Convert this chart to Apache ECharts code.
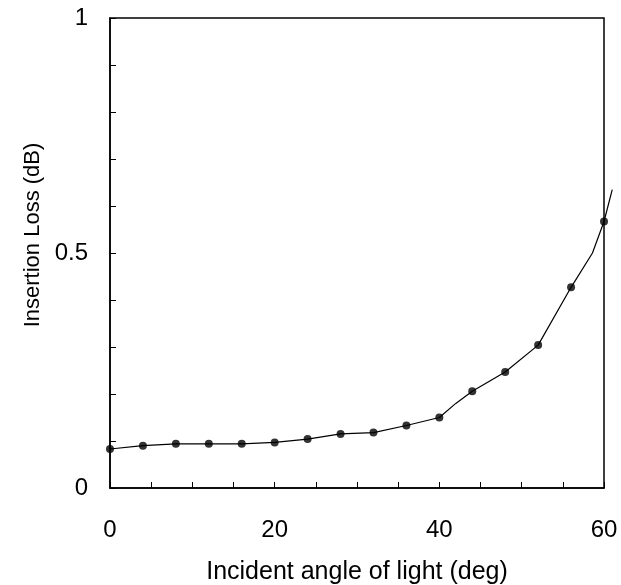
<!DOCTYPE html>
<html>
<head>
<meta charset="utf-8">
<script src="https://cdn.jsdelivr.net/npm/echarts@6/dist/echarts.min.js"></script>
<style>html,body{margin:0;padding:0;background:#fff;}#c{width:621px;height:585px;}</style>
</head>
<body>
<div id="c"></div>
<script>
const angles = [0, 4, 8, 12, 16, 20, 24, 28, 32, 36, 40, 44, 48, 52, 56, 60];
const loss = [0.083, 0.090, 0.094, 0.094, 0.094, 0.097, 0.104, 0.115, 0.118, 0.133, 0.150, 0.206, 0.247, 0.304, 0.427, 0.567];
const curveX = [0, 4, 8, 12, 16, 20, 24, 28, 32, 36, 40, 42, 44, 48, 52, 56, 58.6, 60, 61];
const curveY = [0.083, 0.090, 0.094, 0.094, 0.094, 0.097, 0.104, 0.115, 0.118, 0.133, 0.150, 0.180, 0.206, 0.247, 0.304, 0.427, 0.500, 0.567, 0.635];
const xLabels = [0, 20, 40, 60];
const yLabels = [0, 0.5, 1];

const chart = echarts.init(document.getElementById('c'));
const font = 'Liberation Sans, Arial, sans-serif';
const L = 110, R = 17, T = 18, B = 97;
const xMax = 60, xMaxExt = 61;
const plotW = 621 - L - R;
const extRight = 621 - L - plotW * xMaxExt / xMax;
chart.setOption({
  animation: false,
  grid: [
    {left: L, right: R, top: T, bottom: B, show: true, borderColor: '#000', borderWidth: 1.5,
     containLabel: false, outerBoundsMode: 'none'},
    {left: L, right: extRight, top: T, bottom: B, containLabel: false, outerBoundsMode: 'none'}
  ],
  xAxis: [{
    type: 'value', min: 0, max: xMax, interval: 5, gridIndex: 0,
    name: 'Incident angle of light (deg)', nameLocation: 'middle', nameGap: 72,
    nameTextStyle: {fontFamily: font, fontSize: 25, color: '#000'},
    axisLine: {lineStyle: {color: '#000', width: 1.5}},
    axisTick: {inside: true, length: 6, lineStyle: {color: '#000', width: 1}},
    splitLine: {show: false},
    axisLabel: {margin: 30, fontFamily: font, fontSize: 24, color: '#000',
      formatter: v => xLabels.includes(v) ? String(v) : ''}
  }, {
    type: 'value', min: 0, max: xMaxExt, gridIndex: 1, show: false
  }],
  yAxis: [{
    type: 'value', min: 0, max: 1, interval: 0.1, gridIndex: 0,
    name: 'Insertion Loss (dB)', nameLocation: 'middle', nameGap: 59,
    nameTextStyle: {fontFamily: font, fontSize: 22, color: '#000', padding: [0, 0, 0, 36]},
    axisLine: {lineStyle: {color: '#000', width: 1.5}},
    axisTick: {inside: true, length: 6, lineStyle: {color: '#000', width: 1}},
    splitLine: {show: false},
    axisLabel: {margin: 22, fontFamily: font, fontSize: 24, color: '#000',
      formatter: v => { const r = Math.round(v * 10) / 10; return yLabels.includes(r) ? String(r) : ''; }}
  }, {
    type: 'value', min: 0, max: 1, gridIndex: 1, show: false
  }],
  series: [
    {type: 'line', xAxisIndex: 1, yAxisIndex: 1, data: curveX.map((x, i) => [x, curveY[i]]),
     showSymbol: false, symbol: 'none', clip: false, lineStyle: {color: '#000', width: 1.2}, z: 2},
    {type: 'scatter', xAxisIndex: 0, yAxisIndex: 0, data: angles.map((x, i) => [x, loss[i]]),
     symbol: 'circle', symbolSize: 8, clip: false, itemStyle: {color: '#000'}, z: 3}
  ]
});
</script>
</body>
</html>
